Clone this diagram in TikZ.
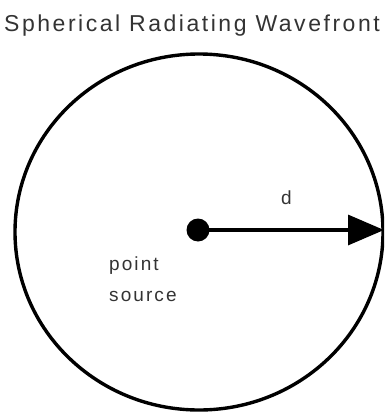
\documentclass[tikz,border=0pt]{standalone}
\usepackage{fontspec}
\setmainfont{Liberation Sans}
\newfontfamily\spaced[LetterSpace=11]{Liberation Sans}
\usetikzlibrary{arrows.meta}
\begin{document}
\begin{tikzpicture}[x=1pt,y=-1pt,
  lbl/.style={inner sep=0pt,anchor=west,text=black!80},
  wave/.style={line width=3.4pt},
  ray/.style={line width=3.4pt,-{Triangle[length=36pt,width=30pt]}}]
\useasboundingbox (0,0) rectangle (384,414);
\clip (0,0) rectangle (384,414);
\node[lbl,font=\spaced\fontsize{23}{26}\selectfont] (title) at (4,26) {Spherical Radiating Wavefront};
\draw[wave] (199,232) ellipse [x radius=184,y radius=178];
\node[circle,fill=black,minimum size=23pt,inner sep=0pt] (src) at (198,230) {};
\coordinate (edge) at (384,230);
\draw[ray] (src.center) -- (edge);
\node[lbl,font=\spaced\fontsize{19}{22}\selectfont] (d) at (281,198) {d};
\node[lbl,font=\spaced\fontsize{19}{22}\selectfont] (point) at (109,266) {point};
\node[lbl,font=\spaced\fontsize{19}{22}\selectfont] (source) at (109,296) {source};
\end{tikzpicture}
\end{document}
